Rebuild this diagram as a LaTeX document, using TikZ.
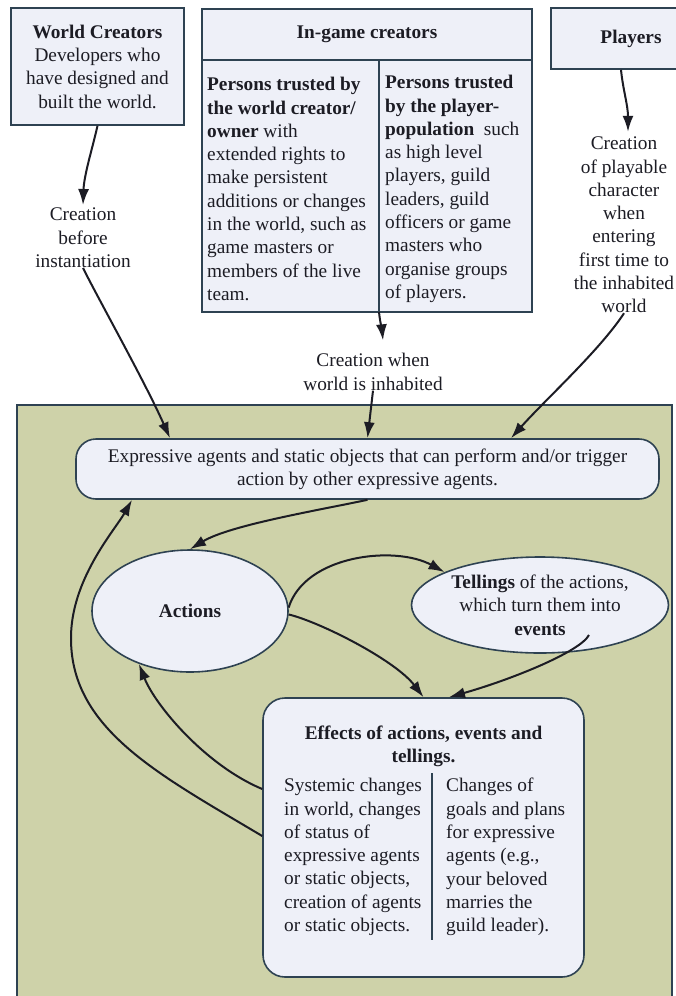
\documentclass[tikz,border=0pt]{standalone}
\usepackage{fontspec}
\setmainfont{Liberation Serif}
\usetikzlibrary{shapes.geometric,arrows.meta}
\definecolor{boxfill}{HTML}{EEF0F8}
\definecolor{boxline}{HTML}{2E4252}
\definecolor{worldfill}{HTML}{CED2A9}
\definecolor{ink}{HTML}{1C1C24}

\begin{document}
\begin{tikzpicture}[x=1pt,y=-1pt,
  every node/.style={font=\fontsize{19.3}{23.3}\selectfont, text=ink, inner sep=0pt},
  box/.style={draw=boxline, line width=1.6pt, fill=boxfill},
  lbl/.style={align=center},
  col/.style={align=left, anchor=west},
  rule/.style={draw=boxline, line width=1.6pt},
  arr/.style={draw=ink, line width=2pt, -{Latex[length=16pt,width=11pt]}},
]
\useasboundingbox (0,0) rectangle (676,996);
\fill[white] (0,0) rectangle (676,996);

% --- creators ---------------------------------------------------------
\node[box, minimum width=173pt, minimum height=117pt, align=center] (wc) at (97.5,66.5)
  {\textbf{World Creators}\\Developers who\\have designed and\\built the world.};

\node[box, minimum width=330pt, minimum height=51pt] (igh) at (367,34.5)
  {\textbf{In-game creators}};
\node[box, minimum width=330pt, minimum height=252pt] (igb) at (367,186) {};
\coordinate (dtop) at (379,60);
\coordinate (dbot) at (379,312);
\draw[rule] (dtop) -- (dbot);
\node[col] (pw) at (207,189)
  {\textbf{Persons trusted by}\\\textbf{the world creator/}\\\textbf{owner} with\\extended rights to\\make persistent\\additions or changes\\in the world, such as\\game masters or\\members of the live\\team.};
\node[col] (pp) at (385,189)
  {\textbf{Persons trusted}\\\textbf{by the player-}\\\textbf{population}\ \ such\\as high level\\players, guild\\leaders, guild\\officers or game\\masters who\\organise groups\\of players.};

\node[box, minimum width=160pt, minimum height=61pt] (pl) at (631,38.5) {\textbf{Players}};

% --- creation labels --------------------------------------------------
\node[lbl] (l1) at (83,238) {Creation\\before\\instantiation};
\node[lbl] (l2) at (373,372) {Creation when\\world is inhabited};
\node[lbl] (l3) at (624,225)
  {Creation\\of playable\\character\\when\\entering\\first time to\\the inhabited\\world};

% --- the inhabited world ----------------------------------------------
\draw[rule, fill=worldfill] (17,405) rectangle (672,1010);

\node[box, rounded corners=20pt, minimum width=583pt, minimum height=60pt, align=center] (ex) at (367.5,469)
  {Expressive agents and static objects that can perform and/or trigger\\action by other expressive agents.};

\node[box, ellipse, minimum width=196pt, minimum height=122pt] (act) at (190,611) {\textbf{Actions}};
\node[box, ellipse, minimum width=257pt, minimum height=96pt, align=center] (tel) at (540,605)
  {\textbf{Tellings} of the actions,\\which turn them into\\\textbf{events}};

\node[box, rounded corners=22pt, minimum width=321pt, minimum height=279pt] (eff) at (423.5,837.5) {};
\node[align=center] (efft) at (423.5,746)
  {\textbf{Effects of actions, events and}\\\textbf{tellings.}};
\node[col] (effl) at (284,857)
  {Systemic changes\\in world, changes\\of status of\\expressive agents\\or static objects,\\creation of agents\\or static objects.};
\node[col] (effr) at (446,857)
  {Changes of\\goals and plans\\for expressive\\agents (e.g.,\\your beloved\\marries the\\guild leader).};
\draw[rule] (432,773) -- (432,940);

% --- connectors -------------------------------------------------------
\draw[arr] (wc.south) .. controls (92,150) and (84,175) .. ([yshift=3pt]l1.north);
\draw[arr] (l1.south) .. controls (100,302) and (145,382) .. ([xshift=-197.5pt]ex.north);
\draw[arr] (dbot) .. controls (380,322) and (382,330) .. ([xshift=10pt,yshift=13pt]l2.north);
\draw[arr] (l2.south) -- (ex.north);
\draw[arr] ([xshift=-10pt]pl.south) .. controls (623,90) and (628,105) .. ([xshift=4pt,yshift=5pt]l3.north);
\draw[arr] (l3.south) .. controls (600,350) and (545,400) .. ([xshift=143.5pt]ex.north);

\draw[arr] (ex.south) .. controls (320,510) and (230,525) .. (act.north);
\draw[arr] (act.2) .. controls (305,555) and (395,545) .. (tel.161);
\draw[arr] (act.-2) .. controls (320,622) and (395,660) .. (eff.north);
\draw[arr] ([shift={(49pt,-30pt)}]tel.center) .. controls (580,652) and (510,680) .. ([xshift=25.5pt]eff.north);
\draw[arr] ([yshift=48.5pt]eff.west) .. controls (205,765) and (155,705) .. (act.226);
\draw[arr] ([yshift=1.5pt]eff.west) .. controls (160,775) and (72,730) .. (71,640)
  .. controls (70,580) and (115,530) .. ([xshift=-235.5pt]ex.south);
\end{tikzpicture}
\end{document}
